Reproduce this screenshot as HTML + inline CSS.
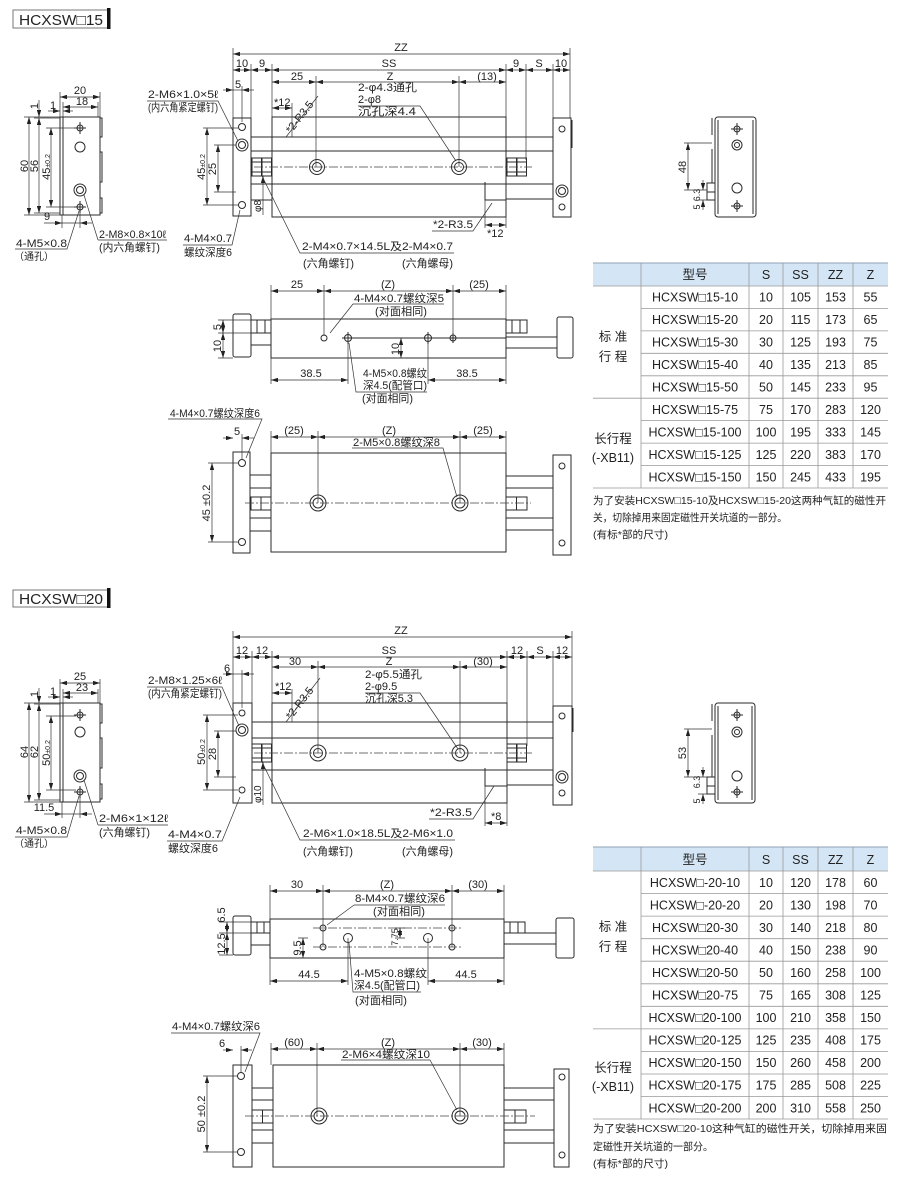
<!DOCTYPE html>
<html><head><meta charset="utf-8"><style>
html,body{margin:0;padding:0;background:#fff}
svg{display:block}
</style></head><body>
<svg width="900" height="1181" viewBox="0 0 900 1181" xmlns="http://www.w3.org/2000/svg">
<defs>
<marker id="a" viewBox="0 0 7 4.4" refX="7" refY="2.2" markerWidth="7" markerHeight="4.4" markerUnits="userSpaceOnUse" orient="auto-start-reverse"><path d="M0,0L7,2.2L0,4.4z" fill="#222"/></marker>
</defs>
<style>
.l{fill:none;stroke:#2a2a2a;stroke-width:1}
.l circle,.l rect,.l path{fill:none}
.d{stroke:#333;stroke-width:.7;marker-start:url(#a);marker-end:url(#a)}
.k{stroke:#333;stroke-width:.7;marker-end:url(#a)}
.e{stroke:#333;stroke-width:.7;fill:none}
.c{stroke:#444;stroke-width:.7;stroke-dasharray:9 2 2 2}
text{font-family:"Liberation Sans","Noto Sans CJK SC",sans-serif;font-size:11px;fill:#222}
.m{text-anchor:middle}
.s{font-size:10px}
.tb{font-size:12.5px;text-anchor:middle}
.n{font-size:10.5px}
</style>
<rect width="900" height="1181" fill="#fff"/>

<!-- ================= SECTION 1 ================= -->
<rect x="13" y="10" width="95" height="18" fill="none" stroke="#777" stroke-width="1"/>
<rect x="107" y="8" width="3.5" height="21" fill="#111"/>
<text x="19" y="25" style="font-size:15px" textLength="84" lengthAdjust="spacingAndGlyphs">HCXSW□15</text>

<!-- left end view -->
<g class="l">
<rect x="60" y="117" width="40" height="98"/>
<path d="M63,117V215M100,118h2v19h-2M100,152h2v30h-2M100,198h2v15h-2"/>
<circle cx="80" cy="128" r="3"/><circle cx="80" cy="147" r="5"/><circle cx="80" cy="190" r="6"/><circle cx="80" cy="190" r="3.5"/><circle cx="80" cy="207" r="3"/>
<path d="M74,128h12M80,122v12M74,207h12M80,201v12"/>
</g>
<path class="e" d="M60,92V117M100,92V117M63,102V117M98,102V117M24,117H60M34,118H60M24,215H60M34,213H60M46,128H76M46,207H76M62,215V228M80,213V228"/>
<line class="d" x1="60" y1="97" x2="100" y2="97"/>
<line class="d" x1="63" y1="107" x2="98" y2="107"/>
<line class="k" x1="48" y1="111" x2="60" y2="111"/><line class="k" x1="73" y1="111" x2="63" y2="111"/>
<line class="d" x1="29" y1="117" x2="29" y2="215"/>
<line class="d" x1="39" y1="118" x2="39" y2="213"/>
<line class="k" x1="39" y1="100" x2="39" y2="117"/>
<line class="d" x1="51" y1="128" x2="51" y2="207"/>
<line class="k" x1="44" y1="223" x2="62" y2="223"/><line class="k" x1="92" y1="223" x2="80" y2="223"/><line class="e" x1="62" y1="223" x2="80" y2="223"/>
<text class="m" x="80" y="94">20</text>
<text class="m" x="82" y="105">18</text>
<text x="50" y="109">1</text>
<text class="m" transform="translate(28,166) rotate(-90)">60</text>
<text class="m" transform="translate(38,166) rotate(-90)">56</text>
<text class="m" transform="translate(38,106) rotate(-90)">1</text>
<text class="m" transform="translate(50,167) rotate(-90)">45<tspan font-size="7">±0.2</tspan></text>
<text class="m" x="47" y="220">9</text>
<path class="e" d="M15,249H67L79,211"/>
<text x="16" y="247" textLength="51" lengthAdjust="spacingAndGlyphs">4-M5×0.8</text>
<text x="14" y="260" class="s">（通孔）</text>
<path class="e" d="M98,240H167M98,240L84,195"/>
<text x="99" y="238" textLength="67" lengthAdjust="spacingAndGlyphs">2-M8×0.8×10ℓ</text>
<text x="99" y="251" textLength="61" lengthAdjust="spacingAndGlyphs">(内六角螺钉)</text>

<!-- main side view -->
<g class="l">
<rect x="233" y="118" width="18" height="98"/>
<circle cx="242" cy="127" r="3.5"/><circle cx="242" cy="145" r="6"/><circle cx="242" cy="145" r="3.5"/><circle cx="242" cy="205" r="3.5"/>
<rect x="272" y="117" width="234" height="100"/>
<path d="M272,137H506M272,151H506M272,184H506M251,137H272M251,151H272M251,184H272M251,200H272M506,137H553M506,151H553M506,184H553M506,199H553M485,182V200H506"/>
<rect x="252" y="158" width="9.5" height="18"/><rect x="262" y="158" width="9.5" height="18"/><path d="M252,162h19M252,172h19"/>
<rect x="507" y="158" width="9.5" height="18"/><rect x="517" y="158" width="9.5" height="18"/><path d="M507,162h19M507,172h19"/>
<rect x="553" y="118" width="18" height="99"/><path d="M572,120v28"/>
<circle cx="562" cy="129" r="3"/><circle cx="562" cy="191" r="6"/><circle cx="562" cy="191" r="3.5"/><circle cx="562" cy="207" r="3"/>
<circle cx="317" cy="167" r="7.5"/><circle cx="317" cy="167" r="4.5"/><circle cx="459" cy="167" r="7.5"/><circle cx="459" cy="167" r="4.5"/>
</g>
<line class="c" x1="254" y1="167" x2="532" y2="167"/>
<path class="e" d="M233,48V118M570,48V118M251,64V118M272,64V117M506,64V228M526,64V160M553,64V118M316,76V167M459,76V167M242,86V122M292,103V137M485,200V228"/>
<line class="d" x1="233" y1="54" x2="570" y2="54"/>
<line class="d" x1="233" y1="70" x2="251" y2="70"/>
<line class="d" x1="251" y1="70" x2="272" y2="70"/>
<line class="d" x1="272" y1="70" x2="506" y2="70"/>
<line class="d" x1="506" y1="70" x2="526" y2="70"/>
<line class="d" x1="526" y1="70" x2="553" y2="70"/>
<line class="d" x1="553" y1="70" x2="570" y2="70"/>
<line class="d" x1="272" y1="82" x2="316" y2="82"/>
<line class="d" x1="316" y1="82" x2="459" y2="82"/>
<line class="d" x1="459" y1="82" x2="506" y2="82"/>
<line class="k" x1="223" y1="90" x2="233" y2="90"/><line class="k" x1="254" y1="90" x2="242" y2="90"/><line class="e" x1="233" y1="90" x2="242" y2="90"/>
<line class="d" x1="272" y1="108" x2="292" y2="108"/>
<line class="d" x1="485" y1="225" x2="506" y2="225"/>
<line class="d" x1="207" y1="128" x2="207" y2="205"/>
<line class="d" x1="218" y1="145" x2="218" y2="192"/>
<path class="e" d="M203,128H238M203,205H238M214,145H236M214,192H236"/>
<line class="k" x1="263" y1="215" x2="263" y2="176"/>
<text class="m" x="401" y="51">ZZ</text>
<text class="m" x="242" y="67">10</text>
<text class="m" x="262" y="67">9</text>
<text class="m" x="389" y="67">SS</text>
<text class="m" x="516" y="67">9</text>
<text class="m" x="539" y="67">S</text>
<text class="m" x="561" y="67">10</text>
<text class="m" x="297" y="80">25</text>
<text class="m" x="390" y="80">Z</text>
<text class="m" x="487" y="80">(13)</text>
<text class="m" x="238" y="88">5</text>
<text x="274" y="106">*12</text>
<text transform="translate(291,134) rotate(-52)">*2-R3.5</text>
<path class="e" d="M286,137L318,96"/>
<text x="433" y="228" textLength="40" lengthAdjust="spacingAndGlyphs">*2-R3.5</text>
<path class="e" d="M432,231H473L492,203"/>
<text x="487" y="237">*12</text>
<text transform="translate(261,212) rotate(-90)" class="s">φ8</text>
<text class="m" transform="translate(205,167) rotate(-90)">45<tspan font-size="7">±0.2</tspan></text>
<text class="m" transform="translate(216,169) rotate(-90)">25</text>
<text x="148" y="98" textLength="70" lengthAdjust="spacingAndGlyphs">2-M6×1.0×5ℓ</text>
<text x="148" y="111" textLength="70" lengthAdjust="spacingAndGlyphs">(内六角紧定螺钉)</text>
<path class="e" d="M147,101H218L238,141"/>
<text x="184" y="242" textLength="48" lengthAdjust="spacingAndGlyphs">4-M4×0.7</text>
<text x="184" y="256" textLength="48" lengthAdjust="spacingAndGlyphs">螺纹深度6</text>
<path class="e" d="M183,245H232L240,210"/>
<text x="302" y="250" textLength="151" lengthAdjust="spacingAndGlyphs">2-M4×0.7×14.5L及2-M4×0.7</text>
<path class="e" d="M454,253H300L262,176"/>
<text x="303" y="267" textLength="51" lengthAdjust="spacingAndGlyphs">(六角螺钉)</text>
<text x="402" y="267" textLength="51" lengthAdjust="spacingAndGlyphs">(六角螺母)</text>
<text x="358" y="91" textLength="59" lengthAdjust="spacingAndGlyphs">2-φ4.3通孔</text>
<text x="358" y="103">2-φ8</text>
<text x="358" y="115" textLength="58" lengthAdjust="spacingAndGlyphs">沉孔深4.4</text>
<path class="e" d="M358,106H420L456,161"/>

<!-- top view -->
<g class="l">
<rect x="271" y="319" width="235" height="39"/>
<rect x="233" y="314" width="18" height="43" rx="2"/>
<rect x="251" y="320" width="20" height="13"/><path d="M257,320v13M265,320v13"/>
<rect x="251" y="333" width="20" height="12"/>
<rect x="506" y="320" width="21" height="13"/><path d="M512,320v13M520,320v13"/>
<rect x="506" y="337" width="51" height="11"/>
<rect x="557" y="317" width="16" height="41" rx="2"/>
<circle cx="324" cy="338" r="3"/><circle cx="348" cy="338" r="3.5"/><circle cx="428" cy="338" r="3.5"/><circle cx="453" cy="338" r="3"/>
<path d="M342,338H506M428,332v12M348,332v12M453,333v10"/>
</g>
<path class="e" d="M271,285V319M324,285V336M453,285V336M506,285V319M218,320H251M218,333H251M218,358H233M271,358V384M348,338V384M428,338V384M506,358V384M396,358H406"/>
<line class="d" x1="271" y1="291" x2="324" y2="291"/>
<line class="d" x1="324" y1="291" x2="453" y2="291"/>
<line class="d" x1="453" y1="291" x2="506" y2="291"/>
<line class="d" x1="401" y1="338" x2="401" y2="358"/>
<line class="d" x1="223" y1="320" x2="223" y2="333"/>
<line class="d" x1="223" y1="333" x2="223" y2="358"/>
<line class="d" x1="271" y1="380" x2="348" y2="380"/>
<line class="d" x1="428" y1="380" x2="506" y2="380"/>
<text class="m" x="297" y="288">25</text>
<text class="m" x="388" y="288">(Z)</text>
<text class="m" x="479" y="288">(25)</text>
<text class="m" transform="translate(399,349) rotate(-90)">10</text>
<text class="m" transform="translate(221,327) rotate(-90)">5</text>
<text class="m" transform="translate(221,346) rotate(-90)">10</text>
<text class="m" x="311" y="377">38.5</text>
<text class="m" x="467" y="377">38.5</text>
<text x="354" y="302" textLength="90" lengthAdjust="spacingAndGlyphs">4-M4×0.7螺纹深5</text>
<path class="e" d="M353,304H444M353,304L330,333"/>
<text x="375" y="315" textLength="52" lengthAdjust="spacingAndGlyphs">(对面相同)</text>
<text x="363" y="377" textLength="64" lengthAdjust="spacingAndGlyphs">4-M5×0.8螺纹</text>
<text x="363" y="389" textLength="64" lengthAdjust="spacingAndGlyphs">深4.5(配管口)</text>
<path class="e" d="M349,343L356,392H427"/>
<text x="362" y="402" textLength="51" lengthAdjust="spacingAndGlyphs">(对面相同)</text>

<!-- bottom view -->
<g class="l">
<rect x="271" y="453" width="235" height="99"/>
<rect x="233" y="452" width="17" height="101"/>
<circle cx="242" cy="463" r="3.5"/><circle cx="242" cy="542" r="3.5"/>
<path d="M250,475H271M250,488H271M250,518H271M250,531H271M506,476H553M506,488H553M506,518H553M506,530H553"/>
<rect x="251" y="497" width="10" height="13"/><rect x="261" y="497" width="10" height="13"/>
<rect x="506" y="497" width="10.5" height="13"/><rect x="516.5" y="497" width="10.5" height="13"/>
<rect x="553" y="455" width="18" height="100"/>
<circle cx="562" cy="466" r="3"/><circle cx="562" cy="543" r="3"/>
<circle cx="318" cy="503" r="8"/><circle cx="318" cy="503" r="5"/><circle cx="460" cy="503" r="8"/><circle cx="460" cy="503" r="5"/>
</g>
<line class="c" x1="245" y1="503" x2="531" y2="503"/>
<path class="e" d="M271,431V453M318,431V503M460,431V503M506,431V453M208,463H238M208,542H238M242,434V460"/>
<line class="d" x1="271" y1="437" x2="318" y2="437"/>
<line class="d" x1="318" y1="437" x2="460" y2="437"/>
<line class="d" x1="460" y1="437" x2="506" y2="437"/>
<line class="d" x1="212" y1="463" x2="212" y2="542"/>
<line class="k" x1="223" y1="438" x2="233" y2="438"/><line class="k" x1="254" y1="438" x2="242" y2="438"/>
<text class="m" x="294" y="434">(25)</text>
<text class="m" x="389" y="434">(Z)</text>
<text class="m" x="483" y="434">(25)</text>
<text class="m" x="237" y="435">5</text>
<text class="m" transform="translate(210,503) rotate(-90)">45 ±0.2</text>
<text x="170" y="417" textLength="90" lengthAdjust="spacingAndGlyphs">4-M4×0.7螺纹深度6</text>
<path class="e" d="M168,419H262L246,458"/>
<text x="353" y="446" textLength="87" lengthAdjust="spacingAndGlyphs">2-M5×0.8螺纹深8</text>
<path class="e" d="M352,448H443L457,497"/>

<!-- right small view -->
<g class="l">
<rect x="715" y="117" width="41" height="100" rx="3"/>
<path d="M718,120V214M753,120V214M712,118V135M712,149V183"/>
<rect x="707" y="183" width="8" height="9"/><rect x="707" y="192" width="8" height="8"/>
<circle cx="737" cy="129" r="3"/><circle cx="737" cy="145" r="5"/><circle cx="737" cy="145" r="2.5"/><circle cx="737" cy="188" r="5"/><circle cx="737" cy="206" r="3"/>
<path d="M731,129h12M737,123v12M731,206h12M737,200v12"/>
</g>
<path class="e" d="M684,143H712M684,190H707M698,200H707"/>
<line class="d" x1="688" y1="143" x2="688" y2="190"/>
<line class="k" x1="703" y1="180" x2="703" y2="190"/><line class="k" x1="703" y1="210" x2="703" y2="200"/>
<text class="m" transform="translate(686,167) rotate(-90)">48</text>
<text class="m" transform="translate(700,195) rotate(-90)" style="font-size:9px">6.3</text>
<text class="m" transform="translate(700,207) rotate(-90)" style="font-size:9px">5</text>

<!-- table 1 -->
<rect x="593" y="263" width="295" height="23" fill="#d4e6f5"/>
<path stroke="#8fa3b5" stroke-width="1" d="M593,263H888"/>
<path stroke="#999" stroke-width=".8" fill="none" d="M593,286H888M641,308.4H888M641,330.9H888M641,353.3H888M641,375.8H888M593,398.2H888M641,420.6H888M641,443.1H888M641,465.5H888M593,488H888M641,263V488M749,263V488M783,263V488M818,263V488M853,263V488"/>
<g>
<text class="tb" x="695" y="279">型号</text><text class="tb" x="766" y="279">S</text><text class="tb" x="800.5" y="279">SS</text><text class="tb" x="835.5" y="279">ZZ</text><text class="tb" x="870.5" y="279">Z</text>
<text class="tb" x="695" y="301.7">HCXSW□15-10</text><text class="tb" x="766" y="301.7">10</text><text class="tb" x="800.5" y="301.7">105</text><text class="tb" x="835.5" y="301.7">153</text><text class="tb" x="870.5" y="301.7">55</text>
<text class="tb" x="695" y="324.2">HCXSW□15-20</text><text class="tb" x="766" y="324.2">20</text><text class="tb" x="800.5" y="324.2">115</text><text class="tb" x="835.5" y="324.2">173</text><text class="tb" x="870.5" y="324.2">65</text>
<text class="tb" x="695" y="346.6">HCXSW□15-30</text><text class="tb" x="766" y="346.6">30</text><text class="tb" x="800.5" y="346.6">125</text><text class="tb" x="835.5" y="346.6">193</text><text class="tb" x="870.5" y="346.6">75</text>
<text class="tb" x="695" y="369.1">HCXSW□15-40</text><text class="tb" x="766" y="369.1">40</text><text class="tb" x="800.5" y="369.1">135</text><text class="tb" x="835.5" y="369.1">213</text><text class="tb" x="870.5" y="369.1">85</text>
<text class="tb" x="695" y="391.5">HCXSW□15-50</text><text class="tb" x="766" y="391.5">50</text><text class="tb" x="800.5" y="391.5">145</text><text class="tb" x="835.5" y="391.5">233</text><text class="tb" x="870.5" y="391.5">95</text>
<text class="tb" x="695" y="413.9">HCXSW□15-75</text><text class="tb" x="766" y="413.9">75</text><text class="tb" x="800.5" y="413.9">170</text><text class="tb" x="835.5" y="413.9">283</text><text class="tb" x="870.5" y="413.9">120</text>
<text class="tb" x="695" y="436.4">HCXSW□15-100</text><text class="tb" x="766" y="436.4">100</text><text class="tb" x="800.5" y="436.4">195</text><text class="tb" x="835.5" y="436.4">333</text><text class="tb" x="870.5" y="436.4">145</text>
<text class="tb" x="695" y="458.8">HCXSW□15-125</text><text class="tb" x="766" y="458.8">125</text><text class="tb" x="800.5" y="458.8">220</text><text class="tb" x="835.5" y="458.8">383</text><text class="tb" x="870.5" y="458.8">170</text>
<text class="tb" x="695" y="481.3">HCXSW□15-150</text><text class="tb" x="766" y="481.3">150</text><text class="tb" x="800.5" y="481.3">245</text><text class="tb" x="835.5" y="481.3">433</text><text class="tb" x="870.5" y="481.3">195</text>
<text class="tb" x="613" y="341">标 准</text><text class="tb" x="613" y="361">行 程</text>
<text class="tb" x="613" y="443">长行程</text><text class="tb" x="613" y="462">(-XB11)</text>
</g>
<text class="n" x="593" y="504" textLength="293" lengthAdjust="spacingAndGlyphs">为了安装HCXSW□15-10及HCXSW□15-20这两种气缸的磁性开</text>
<text class="n" x="593" y="521" textLength="194" lengthAdjust="spacingAndGlyphs">关，切除掉用来固定磁性开关坑道的一部分。</text>
<text class="n" x="593" y="538" textLength="75" lengthAdjust="spacingAndGlyphs">(有标*部的尺寸)</text>

<!-- ================= SECTION 2 ================= -->
<rect x="13" y="590" width="95" height="17" fill="none" stroke="#777" stroke-width="1"/>
<rect x="107" y="588" width="3.5" height="20" fill="#111"/>
<text x="19" y="604" style="font-size:15px" textLength="84" lengthAdjust="spacingAndGlyphs">HCXSW□20</text>

<!-- left end view -->
<g class="l">
<rect x="60" y="703" width="40" height="99"/>
<path d="M63,703V802M100,704h2v19h-2M100,738h2v30h-2M100,784h2v15h-2"/>
<circle cx="80" cy="715" r="3"/><circle cx="80" cy="732" r="5"/><circle cx="80" cy="776" r="6"/><circle cx="80" cy="776" r="3.5"/><circle cx="80" cy="792" r="3"/>
<path d="M74,715h12M80,709v12M74,792h12M80,786v12"/>
</g>
<path class="e" d="M60,679V703M100,679V703M63,689V703M98,689V703M24,703H60M34,704H60M24,802H60M34,800H60M46,716H76M46,790H76M62,802V818M80,798V818"/>
<line class="d" x1="60" y1="683" x2="100" y2="683"/>
<line class="d" x1="63" y1="693" x2="98" y2="693"/>
<line class="k" x1="48" y1="697" x2="60" y2="697"/><line class="k" x1="73" y1="697" x2="63" y2="697"/>
<line class="d" x1="29" y1="703" x2="29" y2="802"/>
<line class="d" x1="39" y1="704" x2="39" y2="800"/>
<line class="k" x1="39" y1="688" x2="39" y2="703"/>
<line class="d" x1="51" y1="716" x2="51" y2="790"/>
<line class="k" x1="44" y1="814" x2="62" y2="814"/><line class="k" x1="92" y1="814" x2="80" y2="814"/><line class="e" x1="62" y1="814" x2="80" y2="814"/>
<text class="m" x="80" y="680">25</text>
<text class="m" x="82" y="691">23</text>
<text x="50" y="695">1</text>
<text class="m" transform="translate(28,752) rotate(-90)">64</text>
<text class="m" transform="translate(38,752) rotate(-90)">62</text>
<text class="m" transform="translate(38,694) rotate(-90)">1</text>
<text class="m" transform="translate(50,753) rotate(-90)">50<tspan font-size="7">±0.2</tspan></text>
<text class="m" x="44" y="811">11.5</text>
<path class="e" d="M15,837H67L79,796"/>
<text x="16" y="834" textLength="51" lengthAdjust="spacingAndGlyphs">4-M5×0.8</text>
<text x="14" y="847" class="s">（通孔）</text>
<path class="e" d="M98,825H168M98,825L84,780"/>
<text x="99" y="822" textLength="69" lengthAdjust="spacingAndGlyphs">2-M6×1×12ℓ</text>
<text x="99" y="836" textLength="51" lengthAdjust="spacingAndGlyphs">(六角螺钉)</text>

<!-- main side view -->
<g class="l">
<rect x="233" y="703" width="19" height="100"/>
<circle cx="242" cy="713" r="3"/><circle cx="242" cy="730" r="6"/><circle cx="242" cy="730" r="3.5"/><circle cx="242" cy="790" r="3"/>
<rect x="272" y="703" width="235" height="100"/>
<path d="M272,722H507M272,738H507M272,770H507M252,722H272M252,738H272M252,770H272M507,722H553M507,738H553M507,770H553M507,785H553M485,768V786H507"/>
<rect x="252" y="744" width="9.5" height="18"/><rect x="262" y="744" width="9.5" height="18"/><path d="M252,748h19M252,758h19"/>
<rect x="507" y="744" width="9.5" height="18"/><rect x="517" y="744" width="9.5" height="18"/><path d="M507,748h19M507,758h19"/>
<rect x="553" y="706" width="19" height="99"/><path d="M573,708v24"/>
<circle cx="562" cy="716" r="3"/><circle cx="562" cy="777" r="6"/><circle cx="562" cy="777" r="3.5"/><circle cx="562" cy="793" r="3"/>
<circle cx="318" cy="753" r="8"/><circle cx="318" cy="753" r="4.5"/><circle cx="460" cy="753" r="8"/><circle cx="460" cy="753" r="4.5"/>
</g>
<line class="c" x1="254" y1="753" x2="532" y2="753"/>
<path class="e" d="M233,631V703M572,631V706M252,651V703M272,651V703M507,651V826M527,651V746M553,651V706M318,661V753M460,661V753M242,670V708M292,689V722M485,786V826"/>
<line class="d" x1="233" y1="637" x2="572" y2="637"/>
<line class="d" x1="233" y1="657" x2="252" y2="657"/>
<line class="d" x1="252" y1="657" x2="272" y2="657"/>
<line class="d" x1="272" y1="657" x2="507" y2="657"/>
<line class="d" x1="507" y1="657" x2="527" y2="657"/>
<line class="d" x1="527" y1="657" x2="553" y2="657"/>
<line class="d" x1="553" y1="657" x2="572" y2="657"/>
<line class="d" x1="272" y1="667" x2="318" y2="667"/>
<line class="d" x1="318" y1="667" x2="460" y2="667"/>
<line class="d" x1="460" y1="667" x2="507" y2="667"/>
<line class="k" x1="223" y1="674" x2="233" y2="674"/><line class="k" x1="254" y1="674" x2="242" y2="674"/><line class="e" x1="233" y1="674" x2="242" y2="674"/>
<line class="d" x1="272" y1="693" x2="292" y2="693"/>
<line class="d" x1="485" y1="823" x2="507" y2="823"/>
<line class="d" x1="207" y1="715" x2="207" y2="790"/>
<line class="d" x1="218" y1="731" x2="218" y2="777"/>
<path class="e" d="M203,715H238M203,790H238M214,731H236M214,777H236"/>
<line class="k" x1="263" y1="805" x2="263" y2="762"/>
<text class="m" x="401" y="634">ZZ</text>
<text class="m" x="242" y="654">12</text>
<text class="m" x="262" y="654">12</text>
<text class="m" x="389" y="654">SS</text>
<text class="m" x="517" y="654">12</text>
<text class="m" x="540" y="654">S</text>
<text class="m" x="562" y="654">12</text>
<text class="m" x="295" y="665">30</text>
<text class="m" x="389" y="665">Z</text>
<text class="m" x="483" y="665">(30)</text>
<text class="m" x="227" y="672">6</text>
<text x="275" y="690">*12</text>
<text transform="translate(291,720) rotate(-52)">*2-R3.5</text>
<path class="e" d="M286,722L320,678"/>
<text x="430" y="816" textLength="42" lengthAdjust="spacingAndGlyphs">*2-R3.5</text>
<path class="e" d="M429,819H473L494,786"/>
<text x="491" y="820">*8</text>
<text transform="translate(261,803) rotate(-90)" class="s">φ10</text>
<text class="m" transform="translate(205,752) rotate(-90)">50<tspan font-size="7">±0.2</tspan></text>
<text class="m" transform="translate(216,754) rotate(-90)">28</text>
<text x="148" y="684" textLength="74" lengthAdjust="spacingAndGlyphs">2-M8×1.25×6ℓ</text>
<text x="148" y="697" textLength="74" lengthAdjust="spacingAndGlyphs">(内六角紧定螺钉)</text>
<path class="e" d="M147,687H222L239,726"/>
<text x="168" y="838" textLength="54" lengthAdjust="spacingAndGlyphs">4-M4×0.7</text>
<text x="168" y="852" textLength="50" lengthAdjust="spacingAndGlyphs">螺纹深度6</text>
<path class="e" d="M167,841H222L240,797"/>
<text x="303" y="837" textLength="150" lengthAdjust="spacingAndGlyphs">2-M6×1.0×18.5L及2-M6×1.0</text>
<path class="e" d="M455,840H300L262,762"/>
<text x="303" y="855" textLength="50" lengthAdjust="spacingAndGlyphs">(六角螺钉)</text>
<text x="402" y="855" textLength="51" lengthAdjust="spacingAndGlyphs">(六角螺母)</text>
<text x="365" y="678" textLength="57" lengthAdjust="spacingAndGlyphs">2-φ5.5通孔</text>
<text x="365" y="690">2-φ9.5</text>
<text x="365" y="702" textLength="48" lengthAdjust="spacingAndGlyphs">沉孔深5.3</text>
<path class="e" d="M365,693H420L458,749"/>

<!-- top view -->
<g class="l">
<rect x="270" y="919" width="234" height="39"/>
<rect x="233" y="916" width="18" height="39" rx="2"/>
<rect x="251" y="922" width="19" height="11"/><path d="M257,922v11M264,922v11"/>
<rect x="251" y="933" width="19" height="12"/>
<rect x="504" y="922" width="21" height="11"/><path d="M510,922v11M518,922v11"/>
<rect x="504" y="933" width="52" height="11"/>
<rect x="556" y="918" width="18" height="40" rx="2"/>
<circle cx="323" cy="928" r="3"/><circle cx="323" cy="947" r="3"/><circle cx="452" cy="928" r="3"/><circle cx="452" cy="947" r="3"/>
<circle cx="348" cy="938" r="4.5"/><circle cx="428" cy="938" r="4.5"/>
</g>
<line class="c" x1="313" y1="928" x2="462" y2="928"/>
<line class="c" x1="313" y1="947" x2="462" y2="947"/>
<path class="e" d="M270,885V919M323,885V947M452,885V947M504,885V919M219,922H251M219,933H251M219,955H233M270,958V985M348,938V985M428,938V985M504,958V985M298,938H308M395,928H405M395,938H405"/>
<line class="d" x1="270" y1="891" x2="323" y2="891"/>
<line class="d" x1="323" y1="891" x2="452" y2="891"/>
<line class="d" x1="452" y1="891" x2="504" y2="891"/>
<line class="d" x1="303" y1="938" x2="303" y2="958"/>
<line class="d" x1="400" y1="928" x2="400" y2="938"/>
<line class="d" x1="227" y1="922" x2="227" y2="933"/>
<line class="d" x1="227" y1="933" x2="227" y2="955"/>
<line class="d" x1="270" y1="981" x2="348" y2="981"/>
<line class="d" x1="428" y1="981" x2="504" y2="981"/>
<text class="m" x="297" y="888">30</text>
<text class="m" x="387" y="888">(Z)</text>
<text class="m" x="478" y="888">(30)</text>
<text class="m" transform="translate(301,948) rotate(-90)">9.5</text>
<text class="m" transform="translate(398,937) rotate(-90)" style="font-size:9px">7.75</text>
<text class="m" transform="translate(225,915) rotate(-90)">6.5</text>
<text class="m" transform="translate(225,944) rotate(-90)">12.5</text>
<text class="m" x="309" y="978">44.5</text>
<text class="m" x="466" y="978">44.5</text>
<text x="355" y="902" textLength="90" lengthAdjust="spacingAndGlyphs">8-M4×0.7螺纹深6</text>
<path class="e" d="M354,905H445M354,905L327,925"/>
<text x="373" y="915" textLength="52" lengthAdjust="spacingAndGlyphs">(对面相同)</text>
<text x="354" y="977" textLength="73" lengthAdjust="spacingAndGlyphs">4-M5×0.8螺纹</text>
<text x="354" y="989" textLength="66" lengthAdjust="spacingAndGlyphs">深4.5(配管口)</text>
<path class="e" d="M349,943L353,992H421"/>
<text x="355" y="1004" textLength="52" lengthAdjust="spacingAndGlyphs">(对面相同)</text>

<!-- bottom view -->
<g class="l">
<rect x="273" y="1065" width="231" height="102"/>
<rect x="233" y="1065" width="19" height="102"/>
<circle cx="241" cy="1076" r="3.5"/><circle cx="241" cy="1152" r="3.5"/>
<path d="M252,1088H273M252,1100H273M252,1130H273M252,1143H273M504,1088H554M504,1100H554M504,1130H554M504,1143H554"/>
<rect x="252" y="1110" width="10.5" height="13"/><rect x="262.5" y="1110" width="10.5" height="13"/>
<rect x="504" y="1110" width="11" height="13"/><rect x="515" y="1110" width="11" height="13"/>
<rect x="554" y="1069" width="15" height="98"/>
<circle cx="562" cy="1077" r="3"/><circle cx="562" cy="1155" r="3"/>
<circle cx="319" cy="1116" r="8"/><circle cx="319" cy="1116" r="5"/><circle cx="460" cy="1116" r="8"/><circle cx="460" cy="1116" r="5"/>
</g>
<line class="c" x1="245" y1="1116" x2="535" y2="1116"/>
<path class="e" d="M271,1043V1065M317,1043V1116M460,1043V1116M504,1043V1065M203,1076H238M203,1152H238M241,1046V1072"/>
<line class="d" x1="271" y1="1049" x2="317" y2="1049"/>
<line class="d" x1="317" y1="1049" x2="460" y2="1049"/>
<line class="d" x1="460" y1="1049" x2="504" y2="1049"/>
<line class="d" x1="207" y1="1076" x2="207" y2="1152"/>
<line class="k" x1="223" y1="1050" x2="233" y2="1050"/><line class="k" x1="252" y1="1050" x2="241" y2="1050"/>
<text class="m" x="294" y="1046">(60)</text>
<text class="m" x="388" y="1046">(Z)</text>
<text class="m" x="482" y="1046">(30)</text>
<text class="m" x="222" y="1047">6</text>
<text class="m" transform="translate(205,1114) rotate(-90)">50 ±0.2</text>
<text x="172" y="1030" textLength="88" lengthAdjust="spacingAndGlyphs">4-M4×0.7螺纹深6</text>
<path class="e" d="M171,1033H260L245,1072"/>
<text x="342" y="1058" textLength="88" lengthAdjust="spacingAndGlyphs">2-M6×4螺纹深10</text>
<path class="e" d="M341,1060H430L457,1110"/>

<!-- right small view -->
<g class="l">
<rect x="715" y="703" width="40" height="100" rx="3"/>
<path d="M718,706V800M752,706V800M712,704V721M712,735V777"/>
<rect x="707" y="777" width="8" height="9"/><rect x="707" y="786" width="8" height="8"/>
<circle cx="737" cy="715" r="3"/><circle cx="737" cy="732" r="5"/><circle cx="737" cy="732" r="2.5"/><circle cx="737" cy="776" r="5"/><circle cx="737" cy="792" r="3"/>
<path d="M731,715h12M737,709v12M731,792h12M737,786v12"/>
</g>
<path class="e" d="M684,729H712M684,777H707M698,794H707"/>
<line class="d" x1="688" y1="729" x2="688" y2="777"/>
<line class="k" x1="703" y1="767" x2="703" y2="777"/><line class="k" x1="703" y1="804" x2="703" y2="794"/>
<text class="m" transform="translate(686,753) rotate(-90)">53</text>
<text class="m" transform="translate(700,782) rotate(-90)" style="font-size:9px">6.3</text>
<text class="m" transform="translate(700,801) rotate(-90)" style="font-size:9px">5</text>

<!-- table 2 -->
<rect x="593" y="847" width="295" height="24" fill="#d4e6f5"/>
<path stroke="#8fa3b5" stroke-width="1" d="M593,847H888"/>
<path stroke="#999" stroke-width=".8" fill="none" d="M593,871H888M641,893.6H888M641,916.1H888M641,938.7H888M641,961.2H888M641,983.8H888M641,1006.3H888M593,1028.9H888M641,1051.4H888M641,1074H888M641,1096.5H888M593,1119H888M641,847V1119M749,847V1119M783,847V1119M818,847V1119M853,847V1119"/>
<g>
<text class="tb" x="695" y="864">型号</text><text class="tb" x="766" y="864">S</text><text class="tb" x="800.5" y="864">SS</text><text class="tb" x="835.5" y="864">ZZ</text><text class="tb" x="870.5" y="864">Z</text>
<text class="tb" x="695" y="886.8">HCXSW□-20-10</text><text class="tb" x="766" y="886.8">10</text><text class="tb" x="800.5" y="886.8">120</text><text class="tb" x="835.5" y="886.8">178</text><text class="tb" x="870.5" y="886.8">60</text>
<text class="tb" x="695" y="909.3">HCXSW□-20-20</text><text class="tb" x="766" y="909.3">20</text><text class="tb" x="800.5" y="909.3">130</text><text class="tb" x="835.5" y="909.3">198</text><text class="tb" x="870.5" y="909.3">70</text>
<text class="tb" x="695" y="931.9">HCXSW□20-30</text><text class="tb" x="766" y="931.9">30</text><text class="tb" x="800.5" y="931.9">140</text><text class="tb" x="835.5" y="931.9">218</text><text class="tb" x="870.5" y="931.9">80</text>
<text class="tb" x="695" y="954.4">HCXSW□20-40</text><text class="tb" x="766" y="954.4">40</text><text class="tb" x="800.5" y="954.4">150</text><text class="tb" x="835.5" y="954.4">238</text><text class="tb" x="870.5" y="954.4">90</text>
<text class="tb" x="695" y="977">HCXSW□20-50</text><text class="tb" x="766" y="977">50</text><text class="tb" x="800.5" y="977">160</text><text class="tb" x="835.5" y="977">258</text><text class="tb" x="870.5" y="977">100</text>
<text class="tb" x="695" y="999.5">HCXSW□20-75</text><text class="tb" x="766" y="999.5">75</text><text class="tb" x="800.5" y="999.5">165</text><text class="tb" x="835.5" y="999.5">308</text><text class="tb" x="870.5" y="999.5">125</text>
<text class="tb" x="695" y="1022.1">HCXSW□20-100</text><text class="tb" x="766" y="1022.1">100</text><text class="tb" x="800.5" y="1022.1">210</text><text class="tb" x="835.5" y="1022.1">358</text><text class="tb" x="870.5" y="1022.1">150</text>
<text class="tb" x="695" y="1044.6">HCXSW□20-125</text><text class="tb" x="766" y="1044.6">125</text><text class="tb" x="800.5" y="1044.6">235</text><text class="tb" x="835.5" y="1044.6">408</text><text class="tb" x="870.5" y="1044.6">175</text>
<text class="tb" x="695" y="1067.2">HCXSW□20-150</text><text class="tb" x="766" y="1067.2">150</text><text class="tb" x="800.5" y="1067.2">260</text><text class="tb" x="835.5" y="1067.2">458</text><text class="tb" x="870.5" y="1067.2">200</text>
<text class="tb" x="695" y="1089.7">HCXSW□20-175</text><text class="tb" x="766" y="1089.7">175</text><text class="tb" x="800.5" y="1089.7">285</text><text class="tb" x="835.5" y="1089.7">508</text><text class="tb" x="870.5" y="1089.7">225</text>
<text class="tb" x="695" y="1112.3">HCXSW□20-200</text><text class="tb" x="766" y="1112.3">200</text><text class="tb" x="800.5" y="1112.3">310</text><text class="tb" x="835.5" y="1112.3">558</text><text class="tb" x="870.5" y="1112.3">250</text>
<text class="tb" x="613" y="931">标 准</text><text class="tb" x="613" y="951">行 程</text>
<text class="tb" x="613" y="1072">长行程</text><text class="tb" x="613" y="1091">(-XB11)</text>
</g>
<text class="n" x="593" y="1132" textLength="294" lengthAdjust="spacingAndGlyphs">为了安装HCXSW□20-10这种气缸的磁性开关，切除掉用来固</text>
<text class="n" x="593" y="1150" textLength="120" lengthAdjust="spacingAndGlyphs">定磁性开关坑道的一部分。</text>
<text class="n" x="593" y="1167" textLength="75" lengthAdjust="spacingAndGlyphs">(有标*部的尺寸)</text>
</svg>
</body></html>
